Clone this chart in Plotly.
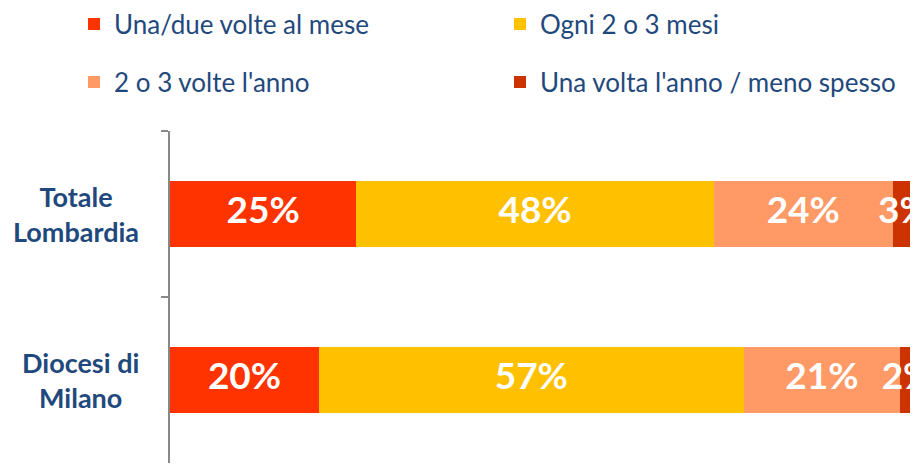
import plotly.graph_objects as go

categories = ["Totale Lombardia", "Diocesi di Milano"]
cat_labels = ["Totale<br>Lombardia", "Diocesi di<br>Milano"]
series_names = ["Una/due volte al mese", "Ogni 2 o 3 mesi", "2 o 3 volte l'anno", "Una volta l'anno / meno spesso"]
values = {
    "Una/due volte al mese": [25, 20],
    "Ogni 2 o 3 mesi": [48, 57],
    "2 o 3 volte l'anno": [24, 21],
    "Una volta l'anno / meno spesso": [3, 2],
}
colors = ["#FF3300", "#FFC000", "#FF9966", "#CC3300"]
legend_ids = ["legend", "legend2", "legend3", "legend4"]

# page body adds an 8px margin, so the figure is drawn 8px smaller and
# pixel positions below are given relative to the figure's corner
OFF = 8
W, H = 918 - OFF, 465 - OFF
legend_pos = [(66, 24 - OFF), (492, 24 - OFF), (66, 82 - OFF), (492, 82 - OFF)]
ML, MT = 170 - OFF, 131 - OFF
MR, MB = W - (915 - OFF), H - (463 - OFF)
FONT = "Lato"
BLUE = "#1F497D"

fig = go.Figure()
for name, col, lg in zip(series_names, colors, legend_ids):
    fig.add_trace(go.Bar(
        y=categories, x=values[name], name=name, orientation="h",
        marker=dict(color=col, line=dict(width=0)), legend=lg,
        textposition="none", hoverinfo="x+name",
    ))

# value labels at segment centres
lx, ly, lt = [], [], []
for i, cat in enumerate(categories):
    cum = 0
    for name in series_names:
        v = values[name][i]
        lx.append(cum + v / 2)
        ly.append(cat)
        lt.append(f"<b>{v}%</b>")
        cum += v
fig.add_trace(go.Scatter(
    x=lx, y=ly, text=lt, mode="text", textposition="middle center",
    textfont=dict(family=FONT, size=37, color="white"),
    showlegend=False, cliponaxis=True, hoverinfo="skip",
))

for cat, lab in zip(categories, cat_labels):
    fig.add_annotation(
        x=(141 - OFF - ML) / (W - ML - MR), xref="paper", y=cat, yref="y",
        text=f"<b>{lab}</b>", showarrow=False, xanchor="right", yanchor="middle",
        align="center", font=dict(family=FONT, size=27, color=BLUE),
    )

legends = {}
for lg, (px, py) in zip(legend_ids, legend_pos):
    legends[lg] = dict(
        orientation="h", xref="container", yref="container",
        x=px / W, y=1 - py / H, xanchor="left", yanchor="middle",
        font=dict(family=FONT, size=26, color=BLUE), bgcolor="rgba(0,0,0,0)",
        borderwidth=0, itemclick=False, itemdoubleclick=False,
    )

fig.update_layout(
    width=W, height=H, barmode="stack", bargap=0.6,
    margin=dict(l=ML, r=MR, t=MT, b=MB, autoexpand=False),
    plot_bgcolor="white", paper_bgcolor="white",
    font=dict(family=FONT, color=BLUE),
    xaxis=dict(range=[0, 100], visible=False, fixedrange=True),
    yaxis=dict(
        type="category", categoryarray=categories, categoryorder="array",
        range=[1.5, -0.5], tickson="boundaries", ticks="outside", ticklen=7,
        tickcolor="#888888", tickwidth=2, showline=True, linecolor="#888888",
        linewidth=2, showticklabels=False, showgrid=False, zeroline=False,
        fixedrange=True,
    ),
    **legends,
)

fig.write_html("out.html")
